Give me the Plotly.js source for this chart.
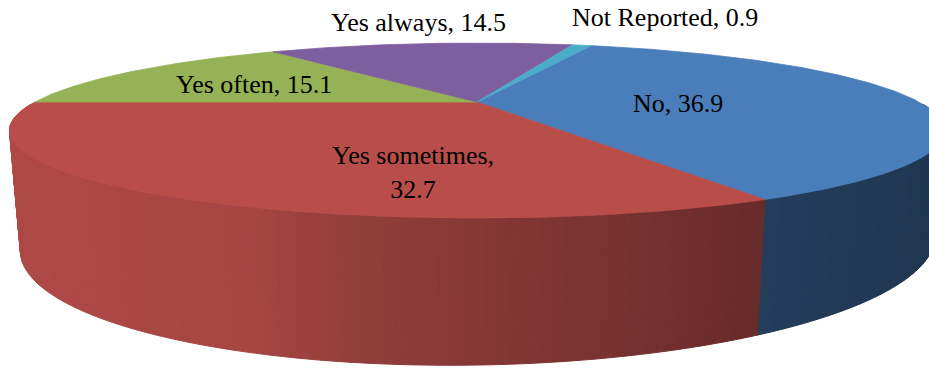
<!DOCTYPE html>
<html><head><meta charset="utf-8">
<script src="https://cdn.plot.ly/plotly-3.0.1.min.js"></script>
<style>html,body{margin:0;padding:0;background:#fff}#chart{width:929px;height:368px}</style>
</head><body><div id="chart"></div>
<script>
// ---------------- data ----------------
const categories = ["No", "Yes sometimes", "Yes often", "Yes always", "Not Reported"];
const values = [36.9, 32.7, 15.1, 14.5, 0.9];

// ---------------- style / layout ----------------
const topColors = ["#4A7EBB", "#B84D4A", "#95B356", "#7D5FA0", "#4BACC6"];
const wallDarken = [0.86, 1, 1, 1, 1];
const labelBreak = [false, true, false, false, false];
const labelPos = [[678, 103], [413, 172], [254, 84], [418, 22], [665, 17]]; // text centres, px
const rotationDeg = 19.7; // first slice starts here, clockwise from the far side
// perspective view of the disc (pixel space)
const VIEW = {cx: 477, cy: 102, ax: 442, ez: 78.2, k: 0.326, mu: 0.02, muTilt: 0.07, vx: 477, vy: 5320};
// wall shading vs screen x
const SHADE = [[0, 0.95], [250, 0.9], [330, 0.82], [400, 0.77], [580, 0.67], [750, 0.57], [940, 0.5]];

function topPt(deg, r) {
  const t = deg * Math.PI / 180;
  const X = r * Math.sin(t), Z = -r * Math.cos(t);
  const w = 1 - VIEW.k * Z;
  return {x: VIEW.cx + VIEW.ax * X / w, y: VIEW.cy + VIEW.ez * Z / w, w: w, X: X};
}
function botPt(deg) {
  const p = topPt(deg, 1);
  const mu = VIEW.mu * (1 - VIEW.muTilt * p.X);
  return {x: (p.x * p.w + mu * VIEW.vx) / (p.w + mu),
          y: (p.y * p.w + mu * VIEW.vy) / (p.w + mu)};
}
function shade(x) {
  for (let i = 1; i < SHADE.length; i++) {
    if (x <= SHADE[i][0]) {
      const a = SHADE[i - 1], b = SHADE[i];
      return a[1] + (b[1] - a[1]) * (x - a[0]) / (b[0] - a[0]);
    }
  }
  return SHADE[SHADE.length - 1][1];
}
function scaleColor(hex, f) {
  const n = parseInt(hex.slice(1), 16);
  const r = Math.round(((n >> 16) & 255) * f), g = Math.round(((n >> 8) & 255) * f), b = Math.round((n & 255) * f);
  return "rgb(" + r + "," + g + "," + b + ")";
}

const total = values.reduce((a, b) => a + b, 0);
const bounds = [];
let acc = rotationDeg;
values.forEach(v => { const a0 = acc; acc += v / total * 360; bounds.push([a0, acc]); });

const traces = [];
// ---- side walls (front half), drawn back to front ----
const strips = [];
bounds.forEach((bd, i) => {
  const step = 1;
  for (let a = bd[0]; a < bd[1] - 1e-9; a += step) {
    const b = Math.min(a + step, bd[1]);
    const mid = (((a + b) / 2) % 360 + 360) % 360;
    if (mid < 92 || mid > 268) continue;
    const p0 = topPt(a, 1), p1 = topPt(b, 1), q1 = botPt(b), q0 = botPt(a);
    const f = shade((p0.x + p1.x) / 2) * wallDarken[i];
    strips.push({d: Math.abs(mid - 180), x: [p0.x, p1.x, q1.x, q0.x, p0.x], y: [p0.y, p1.y, q1.y, q0.y, p0.y], c: scaleColor(topColors[i], f)});
  }
});
strips.sort((s, t) => t.d - s.d);
strips.forEach(s => traces.push({type: "scatter", mode: "lines", x: s.x, y: s.y, fill: "toself",
  fillcolor: s.c, line: {color: s.c, width: 1}, hoverinfo: "skip"}));

// ---- top face slices ----
bounds.forEach((bd, i) => {
  const xs = [VIEW.cx], ys = [VIEW.cy];
  const n = Math.max(2, Math.ceil((bd[1] - bd[0]) / 0.5));
  for (let j = 0; j <= n; j++) {
    const p = topPt(bd[0] + (bd[1] - bd[0]) * j / n, 1);
    xs.push(p.x); ys.push(p.y);
  }
  xs.push(VIEW.cx); ys.push(VIEW.cy);
  traces.push({type: "scatter", mode: "lines", x: xs, y: ys, fill: "toself", fillcolor: topColors[i],
    line: {color: topColors[i], width: 0.8}, name: categories[i], hoverinfo: "skip"});
});

const annotations = categories.map((c, i) => ({
  x: labelPos[i][0], y: labelPos[i][1], xref: "x", yref: "y", showarrow: false,
  text: c + "," + (labelBreak[i] ? "<br>" : " ") + values[i].toFixed(1),
  font: {family: "Liberation Serif, Times New Roman, serif", size: 26, color: "#000"},
  xanchor: "center", yanchor: "middle", align: "center"
}));

const layout = {
  width: 929, height: 368, margin: {l: 0, r: 0, t: 0, b: 0},
  paper_bgcolor: "#fff", plot_bgcolor: "#fff", showlegend: false, hovermode: false,
  xaxis: {range: [0, 929], visible: false, fixedrange: true},
  yaxis: {range: [368, 0], visible: false, fixedrange: true},
  annotations: annotations
};
Plotly.newPlot("chart", traces, layout, {staticPlot: true, displayModeBar: false});
</script>
</body></html>
